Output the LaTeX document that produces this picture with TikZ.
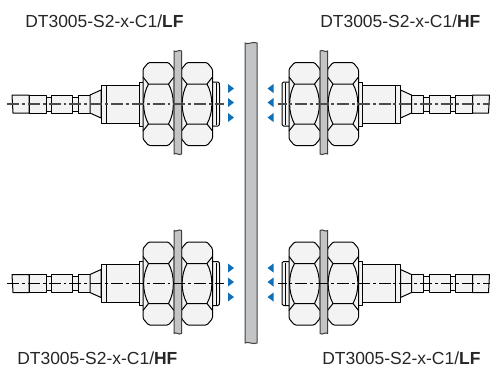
\documentclass[tikz,border=0pt]{standalone}
\usepackage{fontspec}
\setmainfont{Liberation Sans}
\definecolor{partfill}{HTML}{F3F3F3}
\definecolor{platefill}{HTML}{C3C4C6}
\definecolor{markblue}{HTML}{0F70B7}
\tikzset{
    part/.style={draw=black,fill=partfill,line width=0.75pt,line join=round},
    plate/.style={draw=black!75,fill=platefill,line width=0.75pt},
    axisline/.style={line width=0.8pt,dash pattern=on 9pt off 2.2pt on 2.2pt off 2.2pt},
    modellabel/.style={anchor=base west,inner sep=0pt,font=\fontsize{13.1}{15}\selectfont,text=black!85},
    hexnut/.pic={
        \draw[part,rounded corners=1pt] (-15.5,-35) -- (-10,-41.5) -- (10,-41.5) -- (15.5,-35) -- (15.5,35) -- (10,41.5) -- (-10,41.5) -- (-15.5,35) -- cycle;
        \draw[line width=0.75pt] (-15.5,-27) -- (-10,-20) -- (10,-20) -- (15.5,-27);
        \draw[line width=0.75pt] (-15.5,27) -- (-10,20) -- (10,20) -- (15.5,27);
        \draw[line width=0.75pt] (-10,-20) .. controls (-16.5,-8) and (-16.5,8) .. (-10,20);
        \draw[line width=0.75pt] (10,-20) .. controls (16.5,-8) and (16.5,8) .. (10,20);
    },
    sensor/.pic={
        % cable
        \draw[part] (12,-9) -- (29,-9) -- (29,9) -- (13,9) -- cycle;
        \draw[part] (29,-9) -- (46,-9) -- (46,9) -- (29,9) -- cycle;
        \draw[part] (46,-7) -- (51,-7) -- (51,7) -- (46,7) -- cycle;
        \draw[part] (51,-9) -- (72,-9) -- (72,9) -- (51,9) -- cycle;
        \draw[part] (72,-7) -- (78,-7) -- (78,7) -- (72,7) -- cycle;
        \draw[part] (78,-9) -- (90,-9) -- (90,9) -- (78,9) -- cycle;
        \draw[part] (90,-9) -- (101,-14) -- (101,14) -- (90,9) -- cycle;
        % housing
        \draw[part] (101,-19) rectangle (139,19);
        \draw[line width=0.75pt] (106,-19) -- (106,19);
        \draw[part] (139,-22) rectangle (144,22);
        \draw[part] (212,-22) -- (218,-22) .. controls (219.5,-21) .. (219.5,-18) -- (219.5,18) .. controls (219.5,21) .. (218,22) -- (212,22) -- cycle;
        \draw[line width=0.75pt] (216,-21) -- (216,21);
        % nuts and wall
        \pic at (158.5,0) {hexnut};
        \pic at (197,0) {hexnut};
        \draw[plate] (174,-53) .. controls (176,-51) and (179,-55) .. (181.5,-53) -- (181.5,50) .. controls (179,52) and (176,48) .. (174,50) -- cycle;
        % axis
        \draw[axisline,#1] (7,0) -- (224,0);
        % field marks
        \foreach \markpos in {-15.5,-1.5,13.5}
            \fill[markblue] (228,\markpos-4.5) -- (234,\markpos) -- (228,\markpos+4.5) -- cycle;
    }
}
\begin{document}
\begin{tikzpicture}[x=0.75pt,y=-0.75pt]
    \useasboundingbox (0,0) rectangle (490,369);

    \draw[plate] (245,43) .. controls (248,45) and (253,41) .. (257,43) -- (257,343) .. controls (253,345) and (248,341) .. (245,343) -- cycle;

    \pic[shift={(0,104)}] {sensor={black!70}};
    \pic[shift={(501.5,104)},xscale=-1] {sensor={black!70}};
    \pic[shift={(0,283.5)}] {sensor={black}};
    \pic[shift={(501.5,283.5)},xscale=-1] {sensor={black}};

    \node[modellabel] (labeltl) at (25,27) {DT3005-S2-x-C1/\textbf{LF}};
    \node[modellabel] (labeltr) at (320,27) {DT3005-S2-x-C1/\textbf{HF}};
    \node[modellabel] (labelbl) at (17,364) {DT3005-S2-x-C1/\textbf{HF}};
    \node[modellabel] (labelbr) at (322,364) {DT3005-S2-x-C1/\textbf{LF}};
\end{tikzpicture}
\end{document}
